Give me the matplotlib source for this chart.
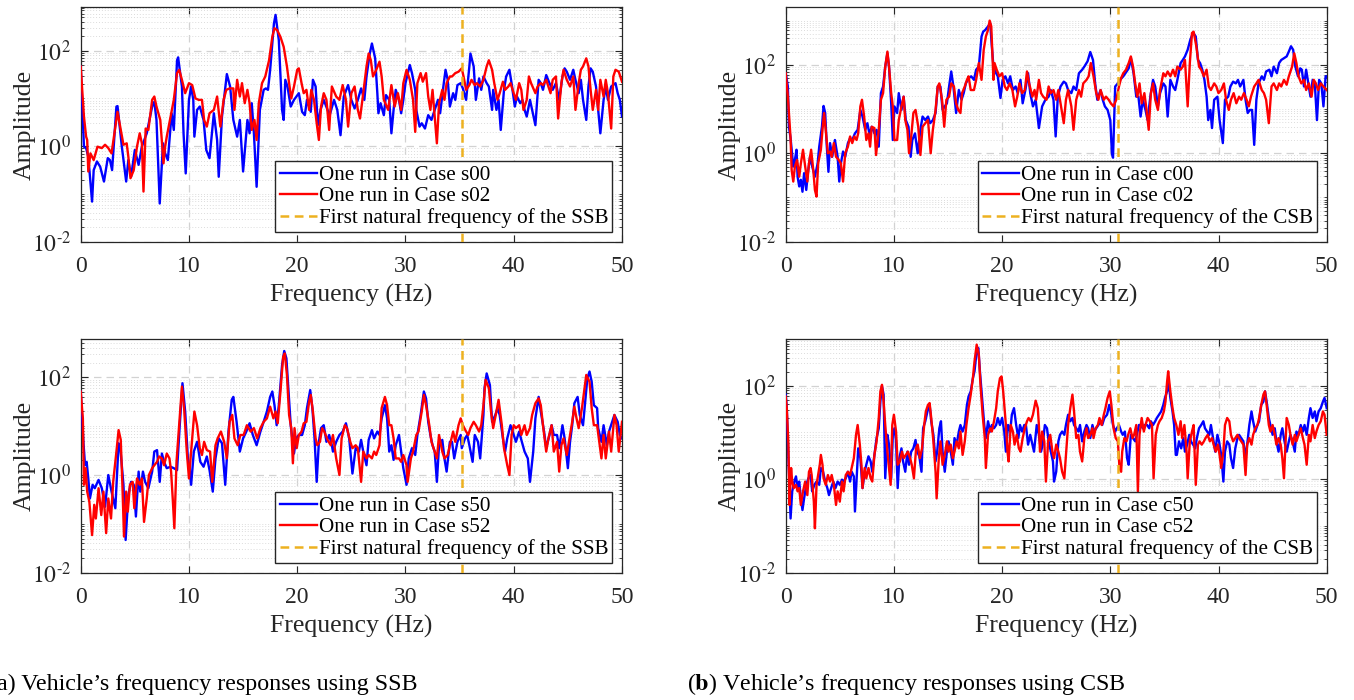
import numpy as np
import matplotlib
matplotlib.use("Agg")
import matplotlib.pyplot as plt
from matplotlib.ticker import FixedLocator, FuncFormatter, NullFormatter

plt.rcParams["font.family"] = ["Liberation Serif", "DejaVu Serif"]
plt.rcParams["mathtext.fontset"] = "stix"

# first natural frequencies of the bridges (Hz)
ssb_freq = 35.25
csb_freq = 30.7

# spectra: (frequency Hz, log10 amplitude)
s00 = [(0.0, 1.67), (0.3, -0.01), (0.5, -0.04), (0.7, -0.22), (1.05, -1.16), (1.2, -0.50), (1.5, -0.32),
       (1.8, -0.43), (2.15, -0.74), (2.5, -0.25), (2.7, -0.29), (2.9, -0.50), (3.3, 0.83), (3.4, 0.84),
       (3.8, -0.01), (4.2, -0.74), (4.4, -0.29), (4.65, -0.64), (5.0, -0.08), (5.35, -0.39), (5.65, -0.01),
       (6.1, 0.27), (6.6, 0.83), (6.8, 0.93), (7.0, 0.55), (7.3, -1.20), (7.6, 0.06), (7.8, -0.15),
       (8.05, -0.29), (8.4, 0.69), (8.6, 0.34), (8.9, 1.80), (9.0, 1.86), (9.35, 1.25), (9.5, 0.27),
       (9.7, -0.57), (10.0, 0.97), (10.2, 1.25), (10.4, 0.97), (10.5, 0.20), (10.75, 0.76), (11.0, 0.83),
       (11.35, 0.55), (11.6, -0.08), (11.9, -0.25), (12.3, 0.69), (12.6, 0.13), (12.75, -0.64), (13.05, 0.62),
       (13.5, 1.51), (13.8, 1.25), (14.1, 0.55), (14.45, 0.20), (14.7, 0.55), (15.0, -0.53), (15.4, 0.55),
       (15.6, 0.27), (15.8, 0.90), (16.0, 0.27), (16.25, -0.85), (16.55, 0.76), (16.9, 1.18), (17.1, 1.21),
       (17.3, 1.18), (17.5, 1.60), (17.85, 2.57), (18.0, 2.75), (18.3, 2.22), (18.6, 0.76), (18.75, 0.55),
       (18.9, 1.39), (19.1, 1.25), (19.4, 0.83), (19.7, 0.97), (20.15, 1.11), (20.45, 0.72), (20.7, 0.65),
       (20.9, 0.97), (21.25, 0.72), (21.45, 1.39), (21.7, 1.25), (21.9, 0.44), (22.15, 0.76), (22.45, 0.97),
       (22.8, 0.76), (23.0, 0.65), (23.4, 0.97), (23.7, 0.76), (24.0, 0.23), (24.3, 1.04), (24.7, 1.28),
       (25.0, 0.97), (25.3, 0.79), (25.6, 0.97), (25.9, 1.21), (26.2, 0.97), (26.4, 1.46), (26.7, 1.94),
       (26.9, 2.15), (27.2, 1.84), (27.4, 1.11), (27.5, 0.69), (27.7, 0.90), (28.0, 0.65), (28.2, 1.07),
       (28.5, 0.97), (28.7, 0.27), (28.9, 0.76), (29.1, 1.18), (29.4, 0.97), (29.6, 0.69), (29.8, 0.97),
       (30.0, 1.32), (30.4, 1.70), (30.6, 1.53), (30.9, 1.18), (31.0, 0.76), (31.3, 0.41), (31.5, 0.48),
       (31.8, 0.37), (32.1, 0.65), (32.4, 0.55), (32.7, 0.76), (33.0, 0.97), (33.2, 0.69), (33.5, 1.25),
       (33.7, 1.60), (33.9, 1.39), (34.1, 0.83), (34.4, 1.11), (34.6, 0.97), (34.8, 1.28), (35.1, 1.32),
       (35.3, 1.21), (35.6, 0.97), (35.9, 1.67), (36.0, 1.94), (36.3, 1.67), (36.5, 0.97), (36.8, 1.42),
       (37.0, 1.18), (37.2, 1.46), (37.5, 1.32), (37.7, 1.25), (38.0, 0.76), (38.1, 1.18), (38.4, 0.76),
       (38.6, 0.97), (38.8, 0.34), (39.1, 1.18), (39.3, 1.46), (39.6, 1.60), (39.8, 1.32), (40.1, 0.83),
       (40.3, 1.04), (40.6, 0.90), (40.8, 0.97), (41.0, 0.76), (41.2, 0.62), (41.5, 0.97), (41.7, 0.76),
       (42.0, 0.44), (42.3, 1.39), (42.5, 1.32), (42.7, 1.18), (43.0, 1.49), (43.3, 1.32), (43.6, 1.18),
       (43.9, 1.32), (44.2, 0.97), (44.5, 1.46), (44.7, 1.63), (44.9, 1.56), (45.2, 1.39), (45.5, 1.60),
       (45.7, 1.39), (46.0, 1.11), (46.2, 1.39), (46.4, 0.97), (46.7, 0.55), (46.9, 1.25), (47.1, 1.63),
       (47.3, 1.56), (47.6, 1.25), (47.8, 0.76), (48.0, 0.27), (48.3, 0.97), (48.5, 1.25), (48.7, 0.97),
       (49.0, 1.25), (49.4, 1.32), (49.6, 1.11), (49.8, 0.97), (50.0, 0.62)]

s02 = [(0.0, 1.67), (0.3, 0.62), (0.5, 0.20), (0.6, 0.13), (0.7, -0.53), (0.9, -0.15), (1.2, -0.29),
       (1.55, -0.01), (1.95, -0.04), (2.25, 0.03), (2.55, -0.04), (2.85, -0.15), (3.2, 0.41), (3.4, 0.72),
       (3.65, 0.41), (3.95, 0.03), (4.25, 0.06), (4.4, -0.22), (4.6, -0.67), (4.9, -0.50), (5.2, -0.01),
       (5.45, 0.27), (5.65, 0.06), (5.8, -0.95), (6.0, 0.37), (6.25, 0.34), (6.6, 0.97), (6.8, 1.04),
       (7.0, 0.83), (7.35, 0.55), (7.65, -0.36), (7.8, -0.01), (7.95, 0.20), (8.3, 0.62), (8.6, 0.97),
       (8.9, 1.53), (9.1, 1.60), (9.35, 1.39), (9.65, 1.11), (10.0, 1.32), (10.3, 1.28), (10.6, 1.00),
       (10.9, 0.97), (11.2, 0.97), (11.4, 0.55), (11.65, 0.41), (11.9, 0.69), (12.3, 0.76), (12.6, 1.04),
       (12.9, 0.41), (13.2, 0.97), (13.45, 1.18), (13.75, 1.21), (14.1, 1.21), (14.2, 0.76), (14.45, 1.39),
       (14.7, 1.04), (14.9, 1.32), (15.15, 0.90), (15.4, 1.18), (15.6, 0.90), (15.8, 0.34), (16.05, 0.55),
       (16.25, 0.13), (16.45, 0.90), (16.75, 1.32), (17.05, 1.46), (17.4, 1.80), (17.7, 2.29), (17.9, 2.47),
       (18.15, 2.43), (18.45, 2.29), (18.75, 2.08), (19.05, 1.67), (19.25, 1.32), (19.45, 1.00), (19.7, 1.25),
       (20.0, 1.60), (20.15, 1.63), (20.4, 1.32), (20.6, 1.11), (20.85, 1.18), (21.1, 0.76), (21.3, 1.18),
       (21.55, 0.97), (21.8, 0.48), (22.0, 0.13), (22.2, 0.83), (22.45, 1.11), (22.7, 0.97), (22.95, 0.34),
       (23.2, 1.25), (23.6, 1.04), (23.9, 0.97), (24.2, 1.28), (24.5, 0.97), (24.7, 0.41), (25.0, 1.11),
       (25.3, 1.25), (25.6, 0.76), (25.8, 0.58), (26.1, 1.11), (26.4, 1.67), (26.6, 1.94), (26.8, 1.80),
       (27.0, 1.46), (27.3, 1.60), (27.6, 1.77), (27.8, 1.46), (28.0, 0.97), (28.4, 0.76), (28.7, 1.28),
       (29.0, 0.83), (29.3, 1.11), (29.6, 0.76), (29.8, 1.32), (30.1, 1.60), (30.4, 1.39), (30.7, 0.97),
       (30.9, 0.30), (31.1, 1.32), (31.4, 1.53), (31.6, 1.35), (31.9, 1.53), (32.1, 1.04), (32.3, 0.76),
       (32.5, 1.18), (32.8, 0.34), (32.9, 0.06), (33.1, 0.90), (33.4, 1.18), (33.6, 0.97), (33.8, 1.32),
       (34.1, 1.46), (34.3, 1.46), (34.6, 1.53), (34.9, 1.56), (35.2, 1.63), (35.4, 1.42), (35.6, 1.18),
       (35.9, 1.28), (36.1, 1.39), (36.4, 1.28), (36.6, 1.32), (36.9, 1.25), (37.2, 1.39), (37.5, 1.67),
       (37.7, 1.80), (38.0, 1.60), (38.2, 1.32), (38.5, 0.97), (38.7, 1.11), (39.0, 1.35), (39.2, 1.18),
       (39.5, 1.25), (39.7, 1.32), (40.0, 1.11), (40.2, 0.97), (40.5, 1.32), (40.7, 1.18), (40.9, 0.76),
       (41.2, 0.97), (41.4, 1.46), (41.6, 1.32), (42.0, 1.11), (42.2, 1.25), (42.5, 1.32), (42.7, 1.28),
       (43.0, 1.39), (43.2, 1.25), (43.4, 1.11), (43.6, 1.39), (43.9, 1.46), (44.1, 0.58), (44.4, 1.32),
       (44.6, 1.60), (44.9, 1.39), (45.2, 1.25), (45.5, 1.46), (45.7, 0.76), (46.0, 1.32), (46.2, 1.60),
       (46.4, 1.67), (46.7, 1.84), (46.9, 1.67), (47.1, 1.18), (47.3, 0.76), (47.6, 1.18), (47.8, 0.76),
       (48.0, 1.39), (48.3, 1.04), (48.5, 1.39), (48.7, 1.11), (49.0, 0.37), (49.2, 1.46), (49.4, 1.60),
       (49.7, 1.56), (50.0, 1.35)]

s50 = [(0.0, 1.71), (0.25, 0.68), (0.4, 0.20), (0.55, 0.27), (0.7, -0.07), (0.85, -0.48), (1.1, -0.20),
       (1.3, -0.27), (1.65, -0.10), (1.95, -0.27), (2.25, -0.65), (2.55, 0.00), (2.85, -0.34), (3.2, -0.68),
       (3.5, 0.65), (3.65, 0.58), (3.95, -0.20), (4.15, -1.33), (4.4, -0.41), (4.65, -0.14), (4.9, -0.20),
       (5.1, -0.85), (5.35, 0.07), (5.5, -0.34), (5.75, 0.07), (5.95, -0.14), (6.25, -0.27), (6.6, 0.07),
       (6.8, 0.48), (7.05, 0.51), (7.3, -0.14), (7.5, 0.44), (7.7, 0.27), (7.95, 0.14), (8.3, 0.17),
       (8.6, 0.14), (8.9, 0.10), (9.15, 1.02), (9.4, 1.88), (9.65, 1.30), (9.9, 0.34), (10.05, 0.14),
       (10.2, -0.20), (10.45, 0.48), (10.75, 0.68), (11.05, 0.27), (11.35, 0.17), (11.65, 0.38), (11.9, 0.10),
       (12.2, -0.34), (12.45, 0.34), (12.75, 0.75), (13.05, 0.65), (13.35, -0.20), (13.65, 0.89), (13.95, 1.54),
       (14.1, 1.60), (14.4, 1.09), (14.7, 0.48), (15.0, 0.75), (15.3, 0.89), (15.6, 1.06), (15.9, 0.82),
       (16.25, 0.61), (16.6, 0.89), (16.9, 1.09), (17.2, 1.30), (17.5, 1.60), (17.7, 1.71), (17.9, 1.43),
       (18.1, 1.02), (18.3, 1.43), (18.6, 2.25), (18.8, 2.54), (19.0, 2.39), (19.2, 1.71), (19.4, 1.02),
       (19.7, 0.44), (19.9, 0.75), (20.15, 0.82), (20.45, 0.82), (20.7, 1.02), (20.9, 1.37), (21.2, 1.74),
       (21.4, 1.37), (21.6, 0.75), (21.8, -0.14), (22.0, 0.68), (22.2, 0.96), (22.45, 1.02), (22.7, 0.68),
       (22.95, 0.82), (23.2, 0.61), (23.3, 0.48), (23.6, 0.68), (23.9, 0.82), (24.2, 0.89), (24.5, 1.06),
       (24.8, 0.75), (25.1, 0.03), (25.4, 0.55), (25.7, 0.48), (25.9, 0.72), (26.1, 0.48), (26.4, 0.20),
       (26.6, 0.72), (26.9, 0.92), (27.1, 0.75), (27.4, 0.89), (27.6, 0.82), (27.8, 1.16), (28.1, 1.43),
       (28.3, 1.16), (28.5, 0.48), (28.7, 0.61), (28.9, 0.31), (29.1, 0.61), (29.4, 0.82), (29.6, 0.48),
       (29.8, 0.14), (30.1, -0.20), (30.3, 0.34), (30.6, 0.55), (30.9, 0.41), (31.1, 0.82), (31.4, 1.23),
       (31.7, 1.71), (31.9, 1.57), (32.1, 1.09), (32.3, 0.82), (32.5, 0.61), (32.7, 0.48), (32.9, -0.14),
       (33.1, 0.61), (33.4, 0.72), (33.6, 0.34), (33.8, 0.07), (34.1, 0.68), (34.3, 0.68), (34.5, 0.34),
       (34.8, 0.68), (35.1, 0.82), (35.2, 0.55), (35.5, 0.75), (35.7, 0.82), (35.9, 0.61), (36.2, 0.27),
       (36.4, 0.82), (36.7, 0.68), (36.9, 0.34), (37.2, 1.23), (37.3, 1.78), (37.5, 2.08), (37.8, 1.84),
       (38.0, 1.09), (38.3, 1.23), (38.5, 1.37), (38.7, 1.23), (39.0, 0.75), (39.2, 0.48), (39.4, 0.75),
       (39.7, 1.02), (39.9, 0.89), (40.2, 0.68), (40.5, 0.89), (40.7, 0.72), (41.0, 0.48), (41.3, 0.34),
       (41.5, -0.14), (41.8, 0.48), (42.0, 1.16), (42.3, 1.60), (42.5, 1.30), (42.8, 0.89), (43.0, 0.55),
       (43.3, 0.82), (43.5, 1.02), (43.7, 0.82), (44.0, 0.82), (44.2, 0.55), (44.5, 1.02), (44.7, 0.75),
       (45.0, 0.14), (45.2, 0.68), (45.4, 1.02), (45.6, 1.47), (45.9, 1.60), (46.1, 1.23), (46.4, 1.02),
       (46.6, 1.50), (46.8, 1.98), (47.0, 2.12), (47.2, 1.91), (47.4, 1.43), (47.7, 1.37), (47.8, 0.96),
       (48.1, 0.68), (48.3, 1.02), (48.6, 0.61), (48.8, 0.89), (49.1, 1.09), (49.3, 1.23), (49.6, 1.09),
       (49.8, 0.82), (50.0, 0.75)]

s52 = [(0.0, 1.71), (0.2, 1.16), (0.3, -0.20), (0.45, 0.14), (0.6, -0.34), (0.8, -0.55), (1.05, -1.23),
       (1.25, -0.61), (1.4, -0.89), (1.65, -0.27), (1.9, -0.82), (2.1, -0.34), (2.35, -1.19), (2.55, -0.48),
       (2.8, -0.89), (3.0, -0.14), (3.3, 0.48), (3.5, 0.92), (3.7, 0.72), (3.85, -0.20), (4.0, -1.26),
       (4.2, -0.34), (4.35, -0.75), (4.55, -0.20), (4.8, -0.14), (4.95, -0.68), (5.2, -0.07), (5.45, -0.20),
       (5.65, -0.07), (5.85, -0.96), (6.1, -0.48), (6.3, 0.00), (6.6, 0.14), (6.8, 0.20), (7.05, 0.27),
       (7.25, 0.38), (7.5, 0.34), (7.7, 0.20), (7.95, 0.44), (8.2, 0.34), (8.35, 0.07), (8.5, -0.48),
       (8.65, -1.09), (8.85, 0.27), (9.05, 0.89), (9.35, 1.81), (9.55, 1.37), (9.8, 0.48), (10.0, -0.07),
       (10.2, 0.48), (10.5, 1.30), (10.75, 1.02), (11.0, 0.55), (11.2, 0.41), (11.4, 0.68), (11.65, 0.51),
       (11.95, 0.48), (12.15, -0.14), (12.45, 0.61), (12.65, 0.75), (12.95, 0.89), (13.25, 0.68), (13.5, 0.34),
       (13.75, 1.09), (14.0, 1.23), (14.2, 0.75), (14.5, 0.61), (14.75, 0.82), (15.05, 0.82), (15.35, 1.02),
       (15.7, 0.89), (16.0, 0.96), (16.3, 0.75), (16.6, 0.96), (16.9, 1.09), (17.2, 1.16), (17.5, 1.40),
       (17.8, 1.16), (18.0, 1.30), (18.2, 1.06), (18.45, 1.71), (18.7, 2.42), (18.85, 2.49), (19.05, 2.05),
       (19.25, 1.23), (19.45, 0.96), (19.6, 0.24), (19.75, 0.96), (19.95, 0.55), (20.15, 0.82), (20.4, 0.89),
       (20.6, 1.06), (20.85, 1.09), (21.1, 1.50), (21.25, 1.64), (21.45, 1.30), (21.7, 0.75), (21.85, 0.61),
       (22.1, 0.68), (22.3, 0.96), (22.5, 0.89), (22.8, 0.72), (23.1, 0.61), (23.3, 0.82), (23.6, 0.34),
       (23.9, 0.00), (24.1, 0.75), (24.4, 1.02), (24.6, 0.96), (24.9, 0.68), (25.1, 0.55), (25.4, 0.61),
       (25.6, 0.55), (25.9, -0.14), (26.1, 0.48), (26.4, 0.34), (26.6, 0.41), (26.9, 0.34), (27.1, 0.48),
       (27.3, 0.41), (27.6, 0.61), (27.8, 1.37), (28.1, 1.60), (28.3, 1.43), (28.5, 1.02), (28.7, 1.02),
       (28.9, 0.75), (29.1, 0.34), (29.4, 0.34), (29.6, 0.27), (29.8, 0.41), (30.1, 0.20), (30.2, -0.14),
       (30.5, 0.34), (30.7, 0.48), (31.0, 0.82), (31.2, 0.89), (31.5, 1.30), (31.7, 1.64), (31.9, 1.43),
       (32.2, 1.02), (32.4, 0.68), (32.7, 0.48), (32.9, 0.34), (33.1, 0.82), (33.4, 0.48), (33.6, 0.34),
       (33.9, 0.41), (34.1, 0.61), (34.4, 0.89), (34.6, 0.68), (34.9, 1.02), (35.1, 1.16), (35.3, 1.02),
       (35.6, 0.89), (35.8, 0.82), (36.0, 0.96), (36.3, 1.09), (36.5, 1.02), (36.8, 0.89), (37.0, 1.02),
       (37.2, 1.43), (37.4, 1.95), (37.7, 1.78), (37.9, 1.30), (38.1, 0.96), (38.4, 1.30), (38.6, 1.54),
       (38.9, 1.02), (39.1, 0.55), (39.4, 0.20), (39.6, 0.00), (39.8, 0.82), (40.0, 1.02), (40.2, 0.96),
       (40.5, 1.02), (40.7, 0.82), (41.0, 1.02), (41.2, 0.82), (41.5, 0.96), (41.7, 1.23), (42.0, 1.47),
       (42.3, 1.57), (42.5, 1.43), (42.7, 1.02), (43.0, 0.48), (43.2, 0.75), (43.5, 1.02), (43.7, 0.48),
       (44.0, 0.68), (44.2, 0.07), (44.4, 0.61), (44.6, 0.75), (44.9, 0.41), (45.1, 0.68), (45.4, 1.09),
       (45.6, 1.40), (45.8, 1.16), (46.0, 0.96), (46.3, 1.37), (46.5, 1.71), (46.7, 2.05), (47.0, 1.91),
       (47.2, 1.37), (47.4, 1.02), (47.7, 1.02), (47.9, 0.68), (48.1, 0.34), (48.3, 0.82), (48.5, 0.34),
       (48.8, 0.89), (49.0, 0.48), (49.3, 1.23), (49.5, 1.02), (49.7, 0.48), (50.0, 1.09)]

c00 = [(0.0, 1.81), (0.2, 1.51), (0.3, 0.60), (0.45, 0.34), (0.55, 0.08), (0.7, -0.30), (0.85, -0.15),
       (1.0, 0.08), (1.1, -0.53), (1.25, -0.75), (1.4, -0.60), (1.55, -0.87), (1.7, -0.45), (1.9, -0.83),
       (2.05, -0.45), (2.25, -0.08), (2.45, -0.30), (2.7, -0.53), (2.95, -0.23), (3.1, 0.15), (3.35, 0.60),
       (3.5, 1.07), (3.65, 0.91), (3.8, 0.15), (3.95, -0.42), (4.1, 0.23), (4.3, -0.08), (4.55, 0.30),
       (4.8, -0.08), (4.95, -0.64), (5.1, -0.23), (5.3, 0.04), (5.5, -0.08), (5.75, 0.23), (5.95, 0.34),
       (6.15, 0.30), (6.4, 0.45), (6.65, 0.53), (6.9, 0.98), (7.1, 0.83), (7.35, 0.53), (7.55, 0.68),
       (7.75, 0.42), (7.95, 0.60), (8.2, 0.45), (8.4, 0.53), (8.6, 0.15), (8.8, 1.36), (9.0, 1.51),
       (9.2, 1.96), (9.4, 2.26), (9.55, 1.96), (9.75, 1.13), (9.9, 0.30), (10.05, 1.06), (10.3, 0.91),
       (10.45, 1.36), (10.7, 0.98), (10.9, 1.28), (11.1, 0.75), (11.35, 0.60), (11.55, -0.08), (11.7, 0.30),
       (11.95, 0.45), (12.2, 0.00), (12.45, 0.53), (12.65, 0.83), (12.9, 0.75), (13.15, 0.83), (13.35, 0.68),
       (13.6, 0.75), (13.85, 0.91), (14.05, 1.51), (14.3, 1.51), (14.5, 0.98), (14.7, 1.06), (14.9, 1.13),
       (15.1, 1.51), (15.3, 1.85), (15.5, 1.51), (15.75, 0.91), (16.0, 1.43), (16.25, 1.21), (16.45, 1.36),
       (16.65, 1.58), (16.9, 1.70), (17.15, 1.74), (17.4, 1.66), (17.6, 1.89), (17.85, 1.96), (18.1, 2.64),
       (18.25, 2.75), (18.45, 2.79), (18.7, 2.87), (18.9, 2.94), (19.05, 2.42), (19.2, 1.96), (19.45, 1.81),
       (19.6, 1.74), (19.85, 1.25), (20.05, 1.66), (20.3, 1.74), (20.55, 1.58), (20.75, 1.74), (21.0, 1.43),
       (21.25, 1.51), (21.45, 1.36), (21.7, 1.66), (21.9, 1.13), (22.15, 1.43), (22.4, 1.81), (22.6, 1.36),
       (22.85, 1.06), (23.1, 1.21), (23.4, 0.57), (23.7, 1.06), (24.0, 1.21), (24.3, 1.28), (24.5, 1.43),
       (24.75, 1.21), (24.95, 0.38), (25.15, 1.28), (25.4, 1.51), (25.7, 1.62), (25.9, 1.58), (26.1, 1.43),
       (26.4, 1.36), (26.6, 1.51), (26.85, 1.43), (27.1, 1.81), (27.4, 1.89), (27.6, 1.96), (27.9, 2.08),
       (28.15, 2.29), (28.4, 2.11), (28.6, 1.58), (28.8, 1.21), (29.1, 1.43), (29.3, 1.21), (29.5, 1.06),
       (29.75, 0.98), (30.0, 0.75), (30.15, 0.00), (30.25, -0.10), (30.45, 1.51), (30.7, 1.58), (30.9, 1.66),
       (31.2, 1.74), (31.5, 1.85), (31.7, 1.92), (31.9, 2.15), (32.15, 1.81), (32.4, 1.28), (32.6, 1.28),
       (32.8, 0.83), (33.0, 1.21), (33.25, 0.98), (33.45, 0.75), (33.7, 1.28), (33.95, 1.66), (34.15, 1.51),
       (34.4, 1.06), (34.6, 1.36), (34.9, 1.58), (35.1, 1.51), (35.3, 0.83), (35.55, 1.66), (35.8, 1.51),
       (36.0, 1.43), (36.2, 1.66), (36.5, 2.04), (36.7, 2.11), (36.9, 2.19), (37.15, 2.34), (37.4, 2.57),
       (37.65, 2.73), (37.9, 2.64), (38.1, 2.11), (38.3, 2.04), (38.5, 1.89), (38.7, 1.66), (38.9, 1.28),
       (39.05, 0.75), (39.25, 0.98), (39.4, 0.57), (39.6, 1.21), (39.9, 1.28), (40.1, 0.75), (40.4, 0.23),
       (40.6, 1.21), (40.9, 1.28), (41.1, 1.51), (41.35, 1.62), (41.6, 1.58), (41.8, 1.66), (42.0, 1.51),
       (42.3, 1.66), (42.5, 1.21), (42.7, 0.91), (42.9, 0.98), (43.1, 0.98), (43.3, 0.19), (43.5, 1.21),
       (43.7, 1.58), (44.0, 1.74), (44.2, 1.66), (44.4, 1.85), (44.7, 1.89), (44.9, 1.74), (45.1, 1.96),
       (45.4, 1.81), (45.6, 2.04), (45.8, 2.11), (46.05, 2.15), (46.3, 2.19), (46.5, 2.30), (46.7, 2.42),
       (46.9, 2.34), (47.1, 1.96), (47.35, 1.74), (47.55, 1.92), (47.7, 1.89), (47.9, 1.51), (48.1, 1.89),
       (48.3, 1.58), (48.5, 1.28), (48.7, 1.66), (48.9, 1.58), (49.1, 0.75), (49.3, 1.66), (49.5, 1.58),
       (49.7, 1.06), (49.9, 1.74), (50.0, 1.74)]

c02 = [(0.0, 1.81), (0.2, 1.28), (0.3, 0.91), (0.45, 0.34), (0.55, -0.38), (0.7, -0.64), (0.85, -0.30),
       (1.05, -0.15), (1.25, -0.53), (1.4, -0.23), (1.6, 0.08), (1.8, -0.30), (2.0, -0.64), (2.15, -0.23),
       (2.35, 0.08), (2.55, -0.38), (2.7, -0.83), (2.85, -0.98), (3.0, -0.23), (3.25, 0.08), (3.4, 0.53),
       (3.55, 0.91), (3.7, 0.53), (3.9, 0.00), (4.1, 0.04), (4.25, -0.08), (4.45, 0.23), (4.65, -0.08),
       (4.9, -0.15), (5.1, -0.23), (5.3, -0.64), (5.5, 0.00), (5.75, 0.15), (5.95, 0.38), (6.15, 0.23),
       (6.35, 0.38), (6.55, 0.30), (6.7, 0.45), (6.9, 1.06), (7.05, 1.21), (7.25, 0.83), (7.45, 0.30),
       (7.65, 0.45), (7.8, 0.15), (7.95, 0.60), (8.2, 0.57), (8.35, -0.04), (8.6, 0.53), (8.8, 1.21),
       (9.0, 1.36), (9.2, 1.96), (9.4, 2.30), (9.55, 1.96), (9.75, 1.36), (9.9, 1.06), (10.05, 0.30),
       (10.3, 0.30), (10.45, 0.75), (10.7, 1.06), (10.9, 1.28), (11.05, 0.75), (11.25, 0.53), (11.4, 0.00),
       (11.6, 0.38), (11.8, 0.91), (12.0, 0.98), (12.25, 0.60), (12.45, -0.04), (12.65, 0.60), (12.9, 0.68),
       (13.15, 0.75), (13.4, 0.00), (13.6, 0.53), (13.85, 0.98), (14.05, 1.51), (14.2, 1.58), (14.45, 1.21),
       (14.65, 0.60), (14.85, 1.21), (15.1, 1.28), (15.3, 1.58), (15.55, 1.51), (15.75, 1.13), (15.95, 0.98),
       (16.15, 0.91), (16.3, 1.36), (16.55, 1.51), (16.75, 1.66), (16.9, 1.74), (17.1, 1.43), (17.4, 1.43),
       (17.6, 1.66), (17.85, 2.04), (18.1, 1.66), (18.3, 2.34), (18.5, 2.64), (18.7, 2.79), (18.85, 3.00),
       (19.0, 2.87), (19.2, 1.66), (19.3, 2.04), (19.5, 1.89), (19.75, 1.74), (20.0, 1.81), (20.25, 1.51),
       (20.45, 1.43), (20.7, 1.58), (20.95, 1.43), (21.2, 1.06), (21.4, 1.28), (21.6, 1.58), (21.85, 1.36),
       (22.1, 1.43), (22.3, 1.85), (22.5, 1.58), (22.8, 1.28), (23.0, 1.43), (23.15, 1.21), (23.4, 1.66),
       (23.6, 1.36), (23.8, 1.28), (24.1, 1.21), (24.3, 1.51), (24.5, 1.36), (24.75, 1.43), (25.0, 1.21),
       (25.2, 1.43), (25.4, 1.13), (25.7, 0.68), (25.9, 1.21), (26.1, 1.43), (26.4, 1.06), (26.6, 0.53),
       (26.85, 1.21), (27.1, 1.43), (27.3, 1.28), (27.5, 1.58), (27.8, 1.66), (28.0, 1.74), (28.2, 2.04),
       (28.45, 1.74), (28.7, 1.36), (28.9, 1.21), (29.1, 1.43), (29.4, 1.21), (29.6, 1.28), (29.85, 1.21),
       (30.05, 1.13), (30.3, 1.06), (30.55, 1.21), (30.8, 1.51), (31.0, 1.70), (31.2, 1.81), (31.45, 1.89),
       (31.7, 2.04), (31.9, 2.19), (32.1, 1.96), (32.3, 1.58), (32.5, 1.28), (32.7, 1.58), (32.9, 1.13),
       (33.15, 1.36), (33.35, 0.98), (33.55, 0.53), (33.75, 1.36), (33.95, 1.58), (34.15, 1.21), (34.4, 0.98),
       (34.6, 1.43), (34.9, 1.81), (35.1, 1.74), (35.3, 1.85), (35.55, 1.74), (35.8, 1.89), (36.0, 1.74),
       (36.2, 1.96), (36.5, 1.89), (36.7, 1.96), (36.9, 2.11), (37.15, 1.06), (37.35, 2.04), (37.55, 2.72),
       (37.7, 2.75), (37.95, 2.42), (38.2, 1.96), (38.4, 1.89), (38.65, 1.74), (38.9, 1.89), (39.1, 1.51),
       (39.3, 1.43), (39.6, 1.58), (39.8, 1.51), (40.0, 1.36), (40.25, 1.43), (40.5, 1.58), (40.7, 1.21),
       (40.95, 0.98), (41.15, 1.21), (41.4, 1.36), (41.65, 1.13), (41.9, 1.28), (42.1, 1.21), (42.35, 1.36),
       (42.6, 1.21), (42.8, 1.06), (43.0, 1.28), (43.3, 1.51), (43.5, 1.58), (43.7, 1.66), (44.0, 1.43),
       (44.2, 1.36), (44.4, 1.21), (44.65, 0.68), (44.9, 1.51), (45.1, 1.58), (45.4, 1.43), (45.6, 1.58),
       (45.8, 1.51), (46.05, 1.66), (46.3, 1.55), (46.5, 1.74), (46.8, 1.96), (47.0, 2.26), (47.2, 2.04),
       (47.4, 1.74), (47.65, 1.58), (47.9, 1.66), (48.1, 1.43), (48.35, 1.58), (48.6, 1.28), (48.8, 1.66),
       (49.0, 1.58), (49.2, 1.43), (49.45, 1.58), (49.7, 1.51), (50.0, 1.43)]

c50 = [(0.0, 1.81), (0.1, 1.52), (0.25, 0.45), (0.35, -0.12), (0.45, -0.84), (0.6, -0.26), (0.8, -0.05),
       (0.95, 0.06), (1.1, -0.19), (1.25, -0.05), (1.4, -0.41), (1.55, -0.66), (1.7, -0.41), (1.9, -0.12),
       (2.1, 0.02), (2.3, 0.09), (2.45, -0.26), (2.65, -0.12), (2.85, -0.05), (3.1, -0.12), (3.25, 0.24),
       (3.45, 0.16), (3.65, -0.05), (3.85, -0.19), (4.0, -0.34), (4.2, -0.19), (4.4, -0.05), (4.6, -0.19),
       (4.8, -0.05), (5.0, -0.12), (5.2, -0.01), (5.35, -0.05), (5.55, 0.02), (5.75, 0.16), (5.95, -0.05),
       (6.1, 0.16), (6.3, 0.06), (6.4, -0.69), (6.6, 0.24), (6.7, 0.66), (6.9, 0.45), (7.1, -0.19),
       (7.3, 0.16), (7.45, 0.31), (7.65, 0.49), (7.85, 0.38), (8.0, 0.16), (8.2, 0.52), (8.4, 0.88),
       (8.6, 1.09), (8.75, 1.66), (8.9, 1.99), (9.05, 1.81), (9.2, 0.02), (9.4, 0.95), (9.55, 0.74),
       (9.75, 0.02), (9.9, 0.95), (10.05, 1.09), (10.2, 0.81), (10.35, -0.19), (10.5, 0.45), (10.7, 0.66),
       (10.85, 0.38), (11.05, 0.16), (11.25, 0.59), (11.4, 0.31), (11.6, 0.59), (11.8, 0.66), (12.0, 0.84),
       (12.15, 0.59), (12.35, 0.49), (12.55, 0.16), (12.7, 1.09), (12.9, 1.24), (13.1, 1.45), (13.3, 1.59),
       (13.45, 1.24), (13.65, 0.95), (13.85, 0.38), (14.0, 0.59), (14.2, 1.09), (14.35, 1.24), (14.5, 0.59),
       (14.7, 0.16), (14.9, 0.59), (15.05, 0.81), (15.25, 0.59), (15.45, 0.31), (15.6, 0.88), (15.8, 0.74),
       (16.0, 1.02), (16.15, 1.16), (16.35, 1.02), (16.55, 1.16), (16.75, 1.59), (16.9, 1.77), (17.1, 1.88),
       (17.3, 2.16), (17.45, 2.31), (17.65, 2.74), (17.8, 2.81), (17.95, 2.31), (18.15, 1.74), (18.35, 1.16),
       (18.5, 0.88), (18.7, 1.24), (18.9, 1.02), (19.05, 1.16), (19.25, 1.09), (19.45, 1.16), (19.6, 1.31),
       (19.8, 1.16), (20.0, 1.31), (20.2, 1.02), (20.35, 0.59), (20.55, 1.16), (20.75, 1.02), (20.9, 1.38),
       (21.1, 1.52), (21.3, 1.16), (21.5, 0.88), (21.65, 1.16), (21.85, 1.02), (22.05, 1.16), (22.2, 1.16),
       (22.4, 0.74), (22.6, 0.95), (22.8, 0.74), (22.95, 0.59), (23.2, 1.16), (23.4, 0.95), (23.6, 0.59),
       (23.75, 0.74), (23.95, 1.16), (24.15, 1.09), (24.3, 0.81), (24.5, 0.59), (24.7, 0.38), (24.8, -0.05),
       (25.0, 0.16), (25.2, 0.81), (25.35, 0.95), (25.55, 1.02), (25.75, 0.95), (25.9, 1.16), (26.1, 1.38),
       (26.3, 1.24), (26.5, 1.31), (26.65, 1.16), (26.85, 1.09), (27.05, 1.02), (27.2, 1.16), (27.4, 0.81),
       (27.6, 1.02), (27.8, 1.16), (27.95, 1.09), (28.15, 0.88), (28.35, 1.16), (28.5, 1.02), (28.7, 1.09),
       (28.9, 1.16), (29.1, 1.24), (29.25, 1.16), (29.45, 1.31), (29.7, 1.38), (29.9, 1.59), (30.05, 1.45),
       (30.25, 1.16), (30.45, 1.02), (30.6, 1.09), (30.8, 1.16), (31.0, 1.02), (31.15, 0.95), (31.35, 1.02),
       (31.55, 0.45), (31.7, 0.31), (31.9, 0.95), (32.1, 0.88), (32.3, 0.81), (32.45, 0.95), (32.65, 1.16),
       (32.85, 1.16), (33.0, 1.09), (33.2, 1.16), (33.4, 1.16), (33.6, 1.09), (33.75, 1.24), (33.95, 1.16),
       (34.15, 1.24), (34.3, 1.31), (34.5, 1.38), (34.7, 1.45), (34.9, 1.59), (35.05, 1.74), (35.25, 1.88),
       (35.4, 2.06), (35.55, 1.74), (35.75, 1.45), (35.9, 1.16), (36.05, 0.52), (36.15, 0.52), (36.35, 0.81),
       (36.55, 0.66), (36.75, 0.88), (36.9, 0.59), (37.1, 0.74), (37.3, 0.95), (37.45, 0.81), (37.65, 0.74),
       (37.85, 0.66), (38.0, 0.88), (38.2, 1.09), (38.4, 1.16), (38.6, 1.24), (38.75, 1.09), (38.95, 1.02),
       (39.15, 0.95), (39.3, 1.16), (39.5, 0.88), (39.7, 0.59), (39.9, 0.95), (40.05, 0.81), (40.25, 0.52),
       (40.45, -0.05), (40.6, 0.59), (40.8, 0.81), (41.0, 0.74), (41.15, 0.45), (41.35, 0.24), (41.55, 0.66),
       (41.75, 0.88), (41.9, 0.95), (42.1, 0.88), (42.3, 0.81), (42.5, 0.45), (42.65, 0.74), (42.85, 1.16),
       (43.05, 1.45), (43.2, 1.24), (43.4, 1.02), (43.6, 1.16), (43.75, 1.24), (43.95, 1.59), (44.15, 1.66),
       (44.3, 1.88), (44.45, 1.66), (44.65, 1.31), (44.8, 1.16), (45.0, 0.95), (45.2, 1.09), (45.35, 0.81),
       (45.55, 0.59), (45.75, 0.95), (45.9, 1.09), (46.1, 0.81), (46.3, 0.59), (46.5, 0.81), (46.65, 0.95),
       (46.85, 0.81), (47.05, 0.59), (47.2, 1.02), (47.4, 0.95), (47.6, 1.16), (47.8, 1.02), (47.95, 1.16),
       (48.15, 0.95), (48.35, 1.31), (48.5, 1.52), (48.7, 1.31), (48.9, 1.45), (49.05, 1.24), (49.25, 1.45),
       (49.45, 1.52), (49.65, 1.66), (49.8, 1.74), (50.0, 1.52)]

c52 = [(0.0, 1.77), (0.1, 1.52), (0.25, 0.74), (0.35, -0.55), (0.5, 0.24), (0.6, -0.05), (0.75, -0.19),
       (0.95, -0.12), (1.1, -0.26), (1.25, -0.19), (1.4, -0.55), (1.6, -0.26), (1.8, -0.05), (2.0, -0.34),
       (2.15, 0.16), (2.3, 0.24), (2.4, 0.09), (2.6, -0.48), (2.7, -1.05), (2.85, -0.12), (3.0, 0.09),
       (3.15, 0.31), (3.25, 0.52), (3.4, 0.31), (3.5, 0.02), (3.7, -0.12), (3.9, 0.09), (4.1, -0.05),
       (4.25, 0.09), (4.45, -0.12), (4.65, -0.55), (4.8, -0.26), (5.0, -0.48), (5.2, -0.05), (5.35, -0.26),
       (5.55, 0.09), (5.75, 0.16), (5.95, 0.09), (6.1, 0.24), (6.3, 0.45), (6.5, 0.95), (6.65, 1.16),
       (6.85, 0.74), (7.0, 0.31), (7.1, -0.19), (7.3, 0.24), (7.45, 0.02), (7.65, 0.24), (7.85, 0.02),
       (8.0, -0.05), (8.2, 0.52), (8.4, 0.81), (8.6, 1.31), (8.75, 1.88), (8.9, 2.02), (9.05, 1.66),
       (9.2, 1.16), (9.4, 0.59), (9.55, 0.24), (9.7, -0.12), (9.85, 1.16), (10.0, 1.38), (10.2, 1.02),
       (10.35, 0.31), (10.55, 0.38), (10.75, 0.59), (10.9, 0.45), (11.1, 0.52), (11.3, 0.59), (11.5, 0.45),
       (11.65, 0.31), (11.85, 0.02), (12.05, 0.66), (12.2, 0.74), (12.4, 0.45), (12.6, 0.66), (12.8, 1.16),
       (12.95, 1.45), (13.15, 1.59), (13.3, 1.63), (13.45, 1.31), (13.65, 0.81), (13.85, 0.16), (13.95, -0.41),
       (14.15, 0.45), (14.3, 0.81), (14.5, 0.31), (14.7, 0.52), (14.9, 0.81), (15.05, 0.59), (15.25, 0.74),
       (15.45, 0.45), (15.6, 0.59), (15.8, 0.81), (16.0, 0.66), (16.15, 1.02), (16.35, 0.52), (16.55, 0.81),
       (16.7, 1.16), (16.9, 1.52), (17.1, 1.81), (17.3, 2.16), (17.45, 2.52), (17.65, 2.88), (17.85, 2.66),
       (18.0, 2.02), (18.2, 1.38), (18.4, 0.88), (18.5, 0.24), (18.7, 0.95), (18.9, 1.09), (19.05, 1.02),
       (19.25, 1.24), (19.45, 1.52), (19.6, 1.88), (19.8, 2.16), (19.95, 2.20), (20.1, 1.88), (20.25, 1.45),
       (20.35, 1.16), (20.5, 0.59), (20.6, 0.38), (20.8, 1.16), (21.0, 1.02), (21.15, 0.74), (21.35, 0.95),
       (21.55, 0.66), (21.7, 0.59), (21.9, 0.88), (22.1, 1.09), (22.3, 1.24), (22.45, 1.31), (22.65, 1.24),
       (22.85, 1.38), (23.1, 1.68), (23.3, 1.52), (23.4, 1.16), (23.5, 0.59), (23.7, 1.02), (23.9, 0.81),
       (24.05, -0.05), (24.25, 0.81), (24.45, 0.95), (24.65, 0.59), (24.8, 0.45), (25.0, 0.74), (25.2, 0.59),
       (25.35, 0.45), (25.55, 0.16), (25.75, 0.02), (25.9, 0.52), (26.1, 1.16), (26.3, 1.52), (26.5, 1.81),
       (26.65, 1.45), (26.85, 0.88), (27.05, 0.95), (27.2, 0.59), (27.4, 0.38), (27.6, 0.88), (27.8, 1.09),
       (27.95, 0.88), (28.15, 0.95), (28.35, 1.09), (28.45, 0.88), (28.65, 1.09), (28.85, 1.16), (29.0, 1.31),
       (29.2, 1.16), (29.4, 1.38), (29.55, 1.52), (29.75, 1.74), (29.95, 1.88), (30.1, 1.59), (30.3, 1.09),
       (30.5, 0.88), (30.7, 0.81), (30.85, 0.24), (31.0, 0.16), (31.1, 0.59), (31.3, 0.88), (31.5, 0.81),
       (31.65, 0.95), (31.85, 1.09), (32.05, 0.88), (32.2, 0.95), (32.4, 1.16), (32.55, -0.26), (32.7, 0.95),
       (32.9, 1.31), (33.1, 1.02), (33.25, 1.16), (33.45, 1.31), (33.65, 1.24), (33.85, 1.16), (34.0, 0.02),
       (34.2, 0.95), (34.4, 1.16), (34.55, 1.24), (34.75, 1.31), (34.95, 1.45), (35.1, 1.66), (35.25, 2.09),
       (35.35, 2.31), (35.55, 1.88), (35.75, 1.52), (35.9, 1.31), (36.1, 1.16), (36.3, 0.95), (36.5, 1.24),
       (36.65, 0.88), (36.85, 1.16), (37.05, 0.59), (37.15, 0.02), (37.35, 0.81), (37.55, 1.02), (37.7, 1.16),
       (37.9, -0.12), (38.1, 0.74), (38.25, 0.81), (38.45, 0.74), (38.65, 0.81), (38.8, 0.88), (39.0, 0.95),
       (39.2, 0.81), (39.4, 0.88), (39.55, 0.74), (39.75, 0.59), (39.95, 0.74), (40.1, 0.52), (40.25, 0.24),
       (40.45, 0.59), (40.6, 1.16), (40.8, 1.31), (41.0, 1.24), (41.15, 0.95), (41.35, 0.81), (41.55, 0.88),
       (41.75, 0.95), (41.9, 0.88), (42.1, 0.81), (42.3, 0.74), (42.5, 0.09), (42.65, 0.74), (42.85, 0.88),
       (43.05, 0.74), (43.2, 0.95), (43.4, 1.09), (43.6, 1.16), (43.75, 1.31), (43.95, 1.59), (44.15, 1.81),
       (44.3, 1.88), (44.45, 1.59), (44.65, 1.16), (44.8, 1.02), (45.0, 1.16), (45.2, 0.95), (45.35, 0.74),
       (45.55, 0.88), (45.75, 0.74), (45.9, 0.45), (46.05, 0.02), (46.2, 0.81), (46.3, 1.31), (46.5, 1.16),
       (46.65, 0.95), (46.85, 0.74), (47.05, 0.95), (47.2, 0.81), (47.4, 0.95), (47.6, 1.09), (47.8, 0.88),
       (47.95, 0.74), (48.15, 0.31), (48.35, 0.95), (48.5, 0.81), (48.7, 1.16), (48.9, 0.88), (49.05, 1.02),
       (49.25, 1.16), (49.45, 1.24), (49.65, 1.45), (49.8, 1.38), (50.0, 0.95)]

BLUE = (0.0, 0.0, 1.0)
RED = (1.0, 0.0, 0.0)
ORANGE = "#EDB120"
INK = "#262626"


def spectrum(pairs):
    arr = np.array(pairs)
    return arr[:, 0], 10.0 ** arr[:, 1]


def decade_label(v, _):
    e = int(round(np.log10(v)))
    if e < 0:
        return r"$10^{\text{-}%d}$" % (-e)
    return r"$10^{%d}$" % e


def draw_panel(ax, runs, labels, bridge, nat_freq, ytop):
    for pairs, color, label in zip(runs, (BLUE, RED), labels):
        f, amp = spectrum(pairs)
        ax.plot(f, amp, color=color, lw=1.7, label=label, zorder=3)
    ax.axvline(nat_freq, color=ORANGE, lw=1.8, ls=(0, (3.5, 2.2)), zorder=4,
               label=f"First natural frequency of the {bridge}")

    ax.set_yscale("log")
    ax.set_xlim(0, 50)
    ax.set_ylim(1e-2, ytop)
    ax.set_xticks([0, 10, 20, 30, 40, 50])
    ax.yaxis.set_major_locator(FixedLocator([1e-2, 1e0, 1e2]))
    minors = [m * 10.0 ** e for e in range(-2, 4) for m in range(1, 10)
              if not (m == 1 and e % 2 == 0)]
    ax.yaxis.set_minor_locator(FixedLocator(minors))
    ax.yaxis.set_minor_formatter(NullFormatter())
    ax.yaxis.set_major_formatter(FuncFormatter(decade_label))

    ax.grid(True, which="major", axis="both", color="#d2d2d2", lw=0.9, ls=(0, (6, 4)))
    ax.grid(True, which="minor", axis="y", color="#dcdcdc", lw=0.7, ls=(0, (1, 2)))
    ax.set_axisbelow(True)

    ax.tick_params(which="both", direction="in", top=True, right=True, colors=INK)
    ax.tick_params(which="major", length=5, width=0.8)
    ax.tick_params(which="minor", length=2.5, width=0.6)
    ax.tick_params(axis="x", labelsize=17, pad=10)
    ax.tick_params(axis="y", labelsize=17, pad=7)
    for sp in ax.spines.values():
        sp.set_color(INK)
        sp.set_linewidth(0.9)

    ax.set_xlabel("Frequency (Hz)", fontsize=18.5, color=INK, labelpad=5)
    ax.set_ylabel("Amplitude", fontsize=18.5, color=INK, labelpad=-3)

    leg = ax.legend(loc="lower right", fontsize=15.2, frameon=True, fancybox=False,
                    edgecolor=INK, framealpha=1.0, borderpad=0.2, handlelength=1.75,
                    handletextpad=0.1, labelspacing=0.08, borderaxespad=0.45)
    leg.get_frame().set_linewidth(1.0)
    leg.set_zorder(10)


W, H = 1354, 700
fig = plt.figure(figsize=(W / 100, H / 100), dpi=100)
fig.patch.set_facecolor("white")


def rect(x0, y0, x1, y1):
    # pixel box (top-left origin) -> figure fraction
    return [x0 / W, 1 - y1 / H, (x1 - x0) / W, (y1 - y0) / H]


ax_tl = fig.add_axes(rect(80.7, 7.3, 622, 241.7))
ax_bl = fig.add_axes(rect(80.7, 339, 622, 572.7))
ax_tr = fig.add_axes(rect(785.7, 7.3, 1326.7, 241.7))
ax_br = fig.add_axes(rect(785.7, 339, 1326.7, 572.7))

draw_panel(ax_tl, (s00, s02), ("One run in Case s00", "One run in Case s02"), "SSB", ssb_freq, 810)
draw_panel(ax_bl, (s50, s52), ("One run in Case s50", "One run in Case s52"), "SSB", ssb_freq, 610)
draw_panel(ax_tr, (c00, c02), ("One run in Case c00", "One run in Case c02"), "CSB", csb_freq, 2000)
draw_panel(ax_br, (c50, c52), ("One run in Case c50", "One run in Case c52"), "CSB", csb_freq, 1000)

fig.text(-11 / W, 1 - 690 / H, "(a) Vehicle\u2019s frequency responses using SSB",
         fontsize=17.3, color="black", ha="left", va="baseline")
fig.text(687 / W, 1 - 690 / H, r"($\mathbf{b}$) Vehicle" + "\u2019s frequency responses using CSB",
         fontsize=17.3, color="black", ha="left", va="baseline")

fig.savefig("out.png", dpi=100)
